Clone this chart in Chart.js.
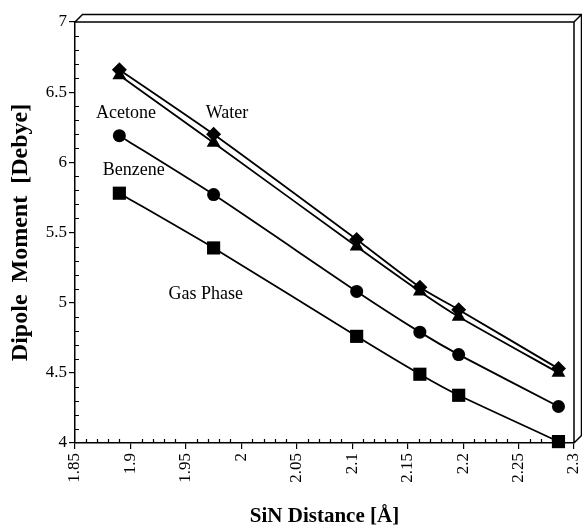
<!DOCTYPE html>
<html>
<head>
<meta charset="utf-8">
<title>Dipole Moment vs SiN Distance</title>
<script src="https://cdn.jsdelivr.net/npm/chart.js@4/dist/chart.umd.min.js"></script>
<style>
  html, body { margin: 0; padding: 0; background: #fff; }
  #wrap { position: relative; width: 582px; height: 529px; }
</style>
</head>
<body>
<div id="wrap"><canvas id="chart-dipole" width="582" height="529"></canvas></div>
<script>
/* ── data ─────────────────────────────────────────────── */
const SIN_DISTANCE = [1.89, 1.975, 2.104, 2.161, 2.196, 2.286];
const WATER        = [6.66, 6.20, 5.45, 5.11, 4.95, 4.53];
const ACETONE      = [6.62, 6.14, 5.40, 5.08, 4.90, 4.50];
const BENZENE      = [6.19, 5.77, 5.08, 4.79, 4.63, 4.26];
const GAS_PHASE    = [5.78, 5.39, 4.76, 4.49, 4.34, 4.01];

/* in-plot labels, anchored in data units */
const LABEL_TEXT = ['Acetone', 'Water', 'Benzene', 'Gas Phase'];
const LABEL_X    = [1.896, 1.987, 1.903, 1.968];
const LABEL_Y    = [6.35, 6.35, 5.94, 5.06];

const SERIF = '"Liberation Serif", "Times New Roman", serif';

function series(values, style, radius) {
  return {
    data: SIN_DISTANCE.map((x, i) => ({ x, y: values[i] })),
    borderColor: '#000',
    backgroundColor: '#000',
    borderWidth: 1.8,
    pointStyle: style,
    pointRadius: radius,
    pointBorderWidth: 0,
    tension: 0.2,
    clip: false
  };
}

/* minor ticks inward, 3D frame, text labels */
const decorPlugin = {
  id: 'decor',
  afterDatasetsDraw(chart) {
    const { ctx, chartArea: a, scales: { x, y } } = chart;
    ctx.save();
    ctx.strokeStyle = '#000';
    ctx.lineWidth = 1.2;
    ctx.beginPath();
    x.ticks.forEach(t => {
      if (Math.round(t.value * 100) % 5 === 0) return;
      const px = Math.round(x.getPixelForValue(t.value)) + 0.5;
      ctx.moveTo(px, a.bottom); ctx.lineTo(px, a.bottom - 4);
    });
    y.ticks.forEach(t => {
      if (Math.round(t.value * 10) % 5 === 0) return;
      const py = Math.round(y.getPixelForValue(t.value)) + 0.5;
      ctx.moveTo(a.left, py); ctx.lineTo(a.left + 4, py);
    });
    ctx.stroke();

    /* box frame with depth */
    const d = 7.5;
    ctx.lineWidth = 1.5;
    ctx.beginPath();
    ctx.moveTo(a.left, a.top); ctx.lineTo(a.right, a.top); ctx.lineTo(a.right, a.bottom);
    ctx.moveTo(a.left, a.top); ctx.lineTo(a.left + d, a.top - d);
    ctx.lineTo(a.right + d, a.top - d); ctx.lineTo(a.right + d, a.bottom - d);
    ctx.lineTo(a.right, a.bottom);
    ctx.moveTo(a.right, a.top); ctx.lineTo(a.right + d, a.top - d);
    ctx.stroke();

    ctx.fillStyle = '#000';
    ctx.font = '18px ' + SERIF;
    ctx.textAlign = 'center';
    ctx.textBaseline = 'middle';
    LABEL_TEXT.forEach((txt, i) => {
      ctx.fillText(txt, x.getPixelForValue(LABEL_X[i]), y.getPixelForValue(LABEL_Y[i]));
    });
    ctx.restore();
  }
};

new Chart(document.getElementById('chart-dipole').getContext('2d'), {
  type: 'line',
  data: {
    datasets: [
      series(WATER, 'rectRot', 7.5),
      series(ACETONE, 'triangle', 8),
      series(BENZENE, 'circle', 6.5),
      series(GAS_PHASE, 'rect', 9.3)
    ]
  },
  options: {
    responsive: false,
    animation: false,
    layout: { autoPadding: false, padding: { top: 22, right: 8, left: 0, bottom: 0 } },
    plugins: { legend: { display: false }, tooltip: { enabled: false } },
    scales: {
      x: {
        type: 'linear',
        min: 1.85, max: 2.3,
        afterFit: s => { s.height = 86; s.paddingLeft = 0; s.paddingRight = 0; },
        border: { color: '#000', width: 1.5 },
        grid: {
          drawOnChartArea: false,
          tickLength: 6,
          lineWidth: 1.2,
          color: c => (Math.round(c.tick.value * 100) % 5 === 0 ? '#000' : 'rgba(0,0,0,0)')
        },
        ticks: {
          stepSize: 0.01,
          autoSkip: false,
          minRotation: 90, maxRotation: 90,
          padding: 4,
          color: '#000',
          font: { family: SERIF, size: 17 },
          callback: v => (Math.round(v * 100) % 5 === 0 ? String(Math.round(v * 100) / 100) : '')
        },
        title: {
          display: true,
          text: 'SiN Distance [Å]',
          color: '#000',
          padding: { top: 0, bottom: 0 },
          font: { family: SERIF, size: 21, weight: 'bold' }
        }
      },
      y: {
        min: 4, max: 7,
        afterFit: s => { s.width = 75; s.paddingTop = 0; s.paddingBottom = 0; },
        border: { color: '#000', width: 1.5 },
        grid: {
          drawOnChartArea: false,
          tickLength: 6,
          lineWidth: 1.2,
          color: c => (Math.round(c.tick.value * 10) % 5 === 0 ? '#000' : 'rgba(0,0,0,0)')
        },
        ticks: {
          stepSize: 0.1,
          autoSkip: false,
          padding: 2,
          color: '#000',
          font: { family: SERIF, size: 17 },
          callback: v => (Math.round(v * 10) % 5 === 0 ? String(Math.round(v * 10) / 10) : '')
        },
        title: {
          display: true,
          text: 'Dipole  Moment  [Debye]',
          color: '#000',
          padding: { top: 6, bottom: 0 },
          font: { family: SERIF, size: 24, weight: 'bold' }
        }
      }
    }
  },
  plugins: [decorPlugin]
});
</script>
</body>
</html>
